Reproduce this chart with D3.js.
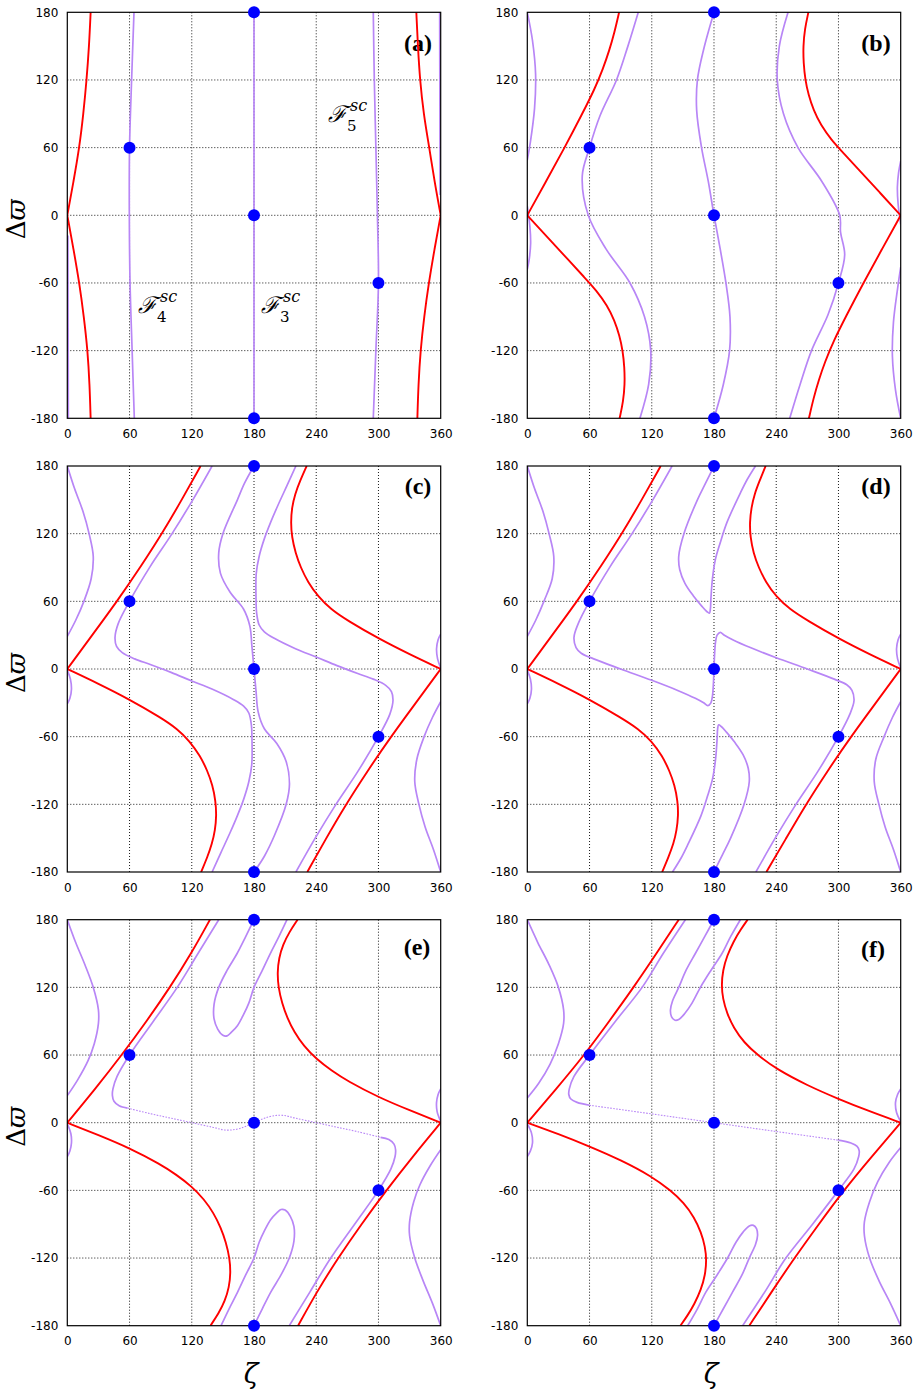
<!DOCTYPE html>
<html><head><meta charset="utf-8">
<script src="https://cdn.jsdelivr.net/npm/d3@7"></script>
<style>body{margin:0;background:#fff}svg{display:block}</style>
</head><body>
<svg id="chart" width="921" height="1394"></svg>
<script>
const xTicks=[0,60,120,180,240,300,360];
const yTicks=[-180,-120,-60,0,60,120,180];
const fixedPoints=[[60,60],[180,180],[180,0],[180,-180],[300,-60]];

// ---- panel (a)
const aRed=[
 [[0,0],[6,30],[11.6,60],[15.5,90],[18.6,120],[21,150],[22.5,180]],
 [[0,0],[6,-30],[11.6,-60],[16,-90],[19.6,-120],[21.5,-150],[22.5,-180]],
 [[360,0],[354,30],[349,60],[343.5,90],[340,120],[338,150],[336.5,180]],
 [[360,0],[354,-30],[348.5,-60],[344,-90],[340.5,-120],[338.5,-150],[337.5,-180]]
];
const aPurple=[
 [[64.3,180],[62,120],[60,60],[59.8,0],[60.5,-60],[62.5,-120],[64.6,-180]],
 [[180,180],[180,0],[180,-180]],
 [[295,180],[296,120],[297.5,60],[299,0],[300,-60],[297.5,-120],[295,-180]],
 [[0.6,-18],[0.8,-100],[1,-180]],
 [[359.4,18],[359.2,100],[359,180]]
];
const aDotted=[];

// ---- panel (b)
const bRed=[
 [[0,0],[18,30],[36,60],[53,90],[65,112],[73,130],[79,146],[84,162],[88.5,180]],
 [[0,0],[20,-20],[40,-40],[55,-55],[67,-67],[77,-80],[84,-93],[89,-107],[92,-120],[93.7,-135],[94,-150],[92.5,-165],[89,-180]],
 [[360,0],[340,20],[320,40],[305,55],[293,67],[283,80],[276,93],[271,107],[268,120],[266.3,135],[266,150],[267.5,165],[271,180]],
 [[360,0],[342,-30],[324,-60],[307,-90],[295,-112],[287,-130],[281,-146],[276,-162],[271.5,-180]]
];
const bPurple=[
 [[107,180],[97,150],[86,120],[70,88],[60,60],[53,35],[58.8,0],[76,-30],[99,-60],[113,-90],[119,-120],[117,-150],[108.6,-180]],
 [[180,180],[170,147],[164,120],[163.3,93],[168,60],[174.5,30],[180,0],[186,-30],[191.5,-60],[195.4,-90],[195,-120],[189,-150],[180,-180]],
 [[253,-180],[263,-150],[274,-120],[290,-88],[300,-60],[306,-35],[302,-15],[301.2,0],[284,30],[261,60],[247,90],[241,120],[243,150],[251.4,180]],
 [[0,180],[5,155],[8,125],[7,95],[3,65],[0,49]],
 [[360,-180],[355,-155],[352,-125],[353,-95],[357,-65],[360,-46]],
 [[0,8],[2.5,-10],[3.2,-25],[2,-38],[0,-48]],
 [[360,-8],[357.5,10],[356.8,25],[358,38],[360,48]]
];
const bDotted=[];

// ---- panel (c)
const cRed=[
 [[0,0],[24,30],[48,60],[71,91],[92,121],[111,151],[128.5,180]],
 [[0,0],[30,-13],[60,-27],[90,-43],[106,-53],[118,-64],[128,-77],[135,-90],[140,-103],[143,-117],[143.8,-130],[142.5,-143],[139.5,-155],[135,-167],[129,-180]],
 [[360,0],[330,13],[300,27],[270,43],[254,53],[242,64],[232,77],[225,90],[220,103],[216.5,117],[215.5,130],[216.5,143],[219.5,155],[224.5,167],[230.8,180]],
 [[360,0],[336,-30],[312,-60],[289,-91],[268,-121],[249,-151],[231.4,-180]]
];
const cPurple=[
 [[139.6,180],[121,150],[101,120],[80,91],[60,60],[49,40],[46,28],[47.5,20],[53,14.5],[65,9],[80,4],[100,-3],[120,-10.6],[140,-18],[160,-27],[170,-33],[175,-39],[177.5,-50],[178,-60],[177.8,-85],[175,-100],[170,-115.6],[164,-130],[157,-145],[148,-163],[139.6,-180]],
 [[220.4,-180],[239,-150],[259,-120],[280,-91],[300,-60],[311,-40],[314,-28],[312.5,-20],[307,-14.5],[295,-9],[280,-4],[260,3],[240,10.6],[220,18],[200,27],[190,33],[185,39],[182.5,50],[182,60],[182.2,85],[185,100],[190,115.6],[196,130],[203,145],[212,163],[220.4,180]],
 [[180,180],[171,165],[164,150],[150,120],[146,103],[147.6,85],[157,68],[170,53],[176,38],[178,20],[180,0],[182,-20],[184,-38],[190,-53],[202,-66],[211,-82],[214.2,-102],[211,-120],[200,-147],[190,-166],[180,-180]],
 [[0,180],[7,160],[15,140],[21,120],[25,100],[23,80],[16,60],[8,43],[0,29]],
 [[360,-180],[353,-160],[345,-140],[339,-120],[335,-100],[337,-80],[344,-60],[352,-43],[360,-29]],
 [[0,-1],[3,-9],[4,-18],[2.5,-26],[0,-31]],
 [[360,1],[357,9],[356,18],[357.5,26],[360,31]]
];
const cDotted=[];

// ---- panel (d)
const dRed=[
 [[0,0],[24,30],[48,60],[71,91],[92,121],[111,151],[128.6,180]],
 [[0,0],[30,-13],[60,-27],[90,-43],[107,-53],[120,-64],[130,-77],[137,-90],[142,-103],[145,-117],[145.6,-130],[144,-143],[141,-155],[136,-167],[130,-180]],
 [[360,0],[330,13],[300,27],[270,43],[253,53],[240,64],[230,77],[223,90],[218,103],[215,117],[214.4,130],[216,143],[219,155],[224,167],[229.8,180]],
 [[360,0],[336,-30],[312,-60],[289,-91],[268,-121],[249,-151],[230.5,-180]]
];
const dPurple=[
 [[139.6,180],[121,150],[101,120],[80,91],[60,60],[49,40],[45,28],[47,19],[52,14],[64,9],[90,0],[120,-10],[145,-19],[162,-26],[170,-30],[174,-32.5],[177,-30],[178.5,-24],[179.5,-12],[180,0],[180.5,12],[181.5,24],[183,30],[186,32.5],[190,30],[198,26],[215,19],[240,10],[270,0],[296,-9],[308,-14],[313,-19],[315,-28],[311,-40],[300,-60],[280,-91],[259,-120],[239,-150],[220.4,-180]],
 [[180,180],[172,165],[164,150],[151,120],[146,100],[147,88],[152,76],[160,65],[168,56],[173,51],[175.5,49.5],[176.5,53],[177,62],[178.5,80],[181.3,97],[186,112],[192.5,130],[205.4,156],[212,168],[220,180]],
 [[180,-180],[188,-165],[196,-150],[209,-120],[214,-100],[213,-88],[208,-76],[200,-65],[192,-56],[187,-51],[184.5,-49.5],[183.5,-53],[183,-62],[181.5,-80],[178.7,-97],[174,-112],[167.5,-130],[154.6,-156],[148,-168],[140,-180]],
 [[0,180],[7,160],[15,140],[21,120],[25.5,100],[24,80],[16,60],[8,43],[0,29]],
 [[360,-180],[353,-160],[345,-140],[339,-120],[334.5,-100],[336,-80],[344,-60],[352,-43],[360,-29]],
 [[0,-1],[3,-9],[4,-18],[2.5,-26],[0,-31]],
 [[360,1],[357,9],[356,18],[357.5,26],[360,31]]
];
const dDotted=[];

// ---- panel (e)
const eRed=[
 [[0,0],[27,30],[52.5,60],[76.5,90],[99,120],[119.5,150],[137.5,180]],
 [[0,0],[30,-11],[60,-22.5],[90,-37],[105,-46],[120,-56.5],[132,-68],[141,-80],[148,-93],[153,-106],[156.5,-120],[157.5,-133],[156,-146],[152,-158],[146,-169],[138,-180]],
 [[360,0],[330,11],[300,22.5],[270,37],[255,46],[240,56.5],[228,68],[219,80],[212,93],[207,106],[203.5,120],[202.5,133],[204,146],[208,158],[214,169],[222,180]],
 [[360,0],[333,-30],[307.5,-60],[283.5,-90],[261,-120],[240.5,-150],[222.5,-180]]
];
const ePurple=[
 [[146,180],[126,150],[106,120],[83,90],[60,60],[48,41],[44,30],[43.5,24],[45,19],[50,15],[58,13]],
 [[302,-13],[310,-15],[315,-19],[316.5,-24],[316,-30],[312,-41],[300,-60],[277,-90],[254,-120],[234,-150],[214,-180]],
 [[180,180],[172,165],[163.7,150],[154,135],[146,120],[141.5,105],[141.5,92],[145,83],[150,77.5],[154,77],[158,80],[164,86],[170,96],[175,106],[180,120],[188,135],[195.7,150],[204,165],[211.8,180]],
 [[180,-180],[188,-165],[196.3,-150],[206,-135],[214,-120],[218.5,-105],[218.5,-92],[215,-83],[210,-77.5],[206,-77],[202,-80],[196,-86],[190,-96],[185,-106],[180,-120],[172,-135],[164.3,-150],[156,-165],[148.2,-180]],
 [[0,180],[8,160],[17,140],[25,120],[30,100],[30,88],[26,70],[20,55],[10,38],[0,24]],
 [[360,-180],[352,-160],[343,-140],[335,-120],[330,-100],[330,-88],[334,-70],[340,-55],[350,-38],[360,-24]],
 [[0,-1],[3.5,-10],[4,-18],[2.5,-25],[0,-30]],
 [[360,1],[356.5,10],[356,18],[357.5,25],[360,30]]
];
const eDotted=[
 [[58,13],[80,8],[100,4],[120,0],[140,-4],[152,-6.5],[162,-6],[170,-4],[175,-2],[180,0],[185,2],[190,4],[198,6],[208,6.5],[220,4],[240,0],[260,-4],[280,-8],[302,-13]]
];

// ---- panel (f)
const fRed=[
 [[0,0],[28,30],[55,60],[79,90],[102.5,120],[124.5,150],[146,180]],
 [[0,0],[30,-10],[60,-21],[90,-33],[120,-47.6],[138,-60],[151,-71],[161,-84],[167.5,-97],[171.5,-110],[172.8,-122],[171.5,-135],[167.5,-148],[161,-161],[154.5,-171],[147.6,-180]],
 [[360,0],[330,10],[300,21],[270,33],[240,47.6],[222,60],[209,71],[199,84],[192.5,97],[188.5,110],[187.2,122],[188.5,135],[192.5,148],[199,161],[205.5,171],[212.4,180]],
 [[360,0],[332,-30],[305,-60],[281,-90],[257.5,-120],[235.5,-150],[214,-180]]
];
const fPurple=[
 [[152.4,180],[131,150],[110.7,120],[85,90],[60,60],[45,41],[40.5,30],[40,25],[42,21],[48,18],[60,15.5]],
 [[300,-15.5],[312,-18],[318,-21],[320,-25],[319.5,-30],[315,-41],[300,-60],[275,-90],[249.3,-120],[229,-150],[207.6,-180]],
 [[180,180],[171,165],[162,150],[153,135],[146,120],[140,108],[138,100],[139,94],[142,91],[146,91.5],[152,97],[158.8,106],[166.9,120],[177,135],[187.7,150],[196,165],[205.4,180]],
 [[180,-180],[189,-165],[198,-150],[207,-135],[214,-120],[220,-108],[222,-100],[221,-94],[218,-91],[214,-91.5],[208,-97],[201.2,-106],[193.1,-120],[183,-135],[172.3,-150],[164,-165],[154.6,-180]],
 [[0,180],[10,160],[21,140],[30,120],[35,100],[35,88],[30,70],[22,52],[11,35],[0,22]],
 [[360,-180],[350,-160],[339,-140],[330,-120],[325,-100],[325,-88],[330,-70],[338,-52],[349,-35],[360,-22]],
 [[0,-1],[4,-9],[5,-18],[3,-25],[0,-30]],
 [[360,1],[356,9],[355,18],[357,25],[360,30]]
];
const fDotted=[
 [[60,15.5],[120,7.8],[180,0],[240,-7.8],[300,-15.5]]
];

const panelLabels=['(a)','(b)','(c)','(d)','(e)','(f)'];

const panels=[
 {label:panelLabels[0],red:aRed,purple:aPurple,dotted:aDotted,left:67.3,top:12.3,lx:418,ly:51,yTitle:true,xTitle:false},
 {label:panelLabels[1],red:bRed,purple:bPurple,dotted:bDotted,left:527.3,top:12.3,lx:876,ly:51,yTitle:false,xTitle:false},
 {label:panelLabels[2],red:cRed,purple:cPurple,dotted:cDotted,left:67.3,top:466,lx:418,ly:494,yTitle:true,xTitle:false},
 {label:panelLabels[3],red:dRed,purple:dPurple,dotted:dDotted,left:527.3,top:466,lx:876,ly:494,yTitle:false,xTitle:false},
 {label:panelLabels[4],red:eRed,purple:ePurple,dotted:eDotted,left:67.3,top:919.7,lx:417,ly:955,yTitle:true,xTitle:true},
 {label:panelLabels[5],red:fRed,purple:fPurple,dotted:fDotted,left:527.3,top:919.7,lx:873,ly:957,yTitle:false,xTitle:true}
];

const W=373.4,H=406;
const RED='#ff0000',PURPLE='#b886f6',BLUE='#0000ff';
const svg=d3.select('#chart');
const x=d3.scaleLinear().domain([0,360]).range([0,W]);
const y=d3.scaleLinear().domain([-180,180]).range([H,0]);
const line=d3.line().x(d=>x(d[0])).y(d=>y(d[1])).curve(d3.curveCatmullRom.alpha(0.5));
const smoothLine=d3.line().x(d=>x(d[0])).y(d=>y(d[1])).curve(d3.curveBasis);

panels.forEach((p,i)=>{
  const g=svg.append('g').attr('transform',`translate(${p.left},${p.top})`);
  const cid='clip'+i;
  g.append('clipPath').attr('id',cid).append('rect').attr('x',0).attr('y',0).attr('width',W).attr('height',H);

  // grid
  const grid=g.append('g').attr('stroke','#000').attr('stroke-width',0.9).attr('stroke-dasharray','1,2');
  grid.selectAll('line.vx').data(xTicks.slice(1,-1)).join('line')
    .attr('x1',d=>x(d)).attr('x2',d=>x(d)).attr('y1',0).attr('y2',H);
  grid.selectAll('line.hy').data(yTicks.slice(1,-1)).join('line')
    .attr('y1',d=>y(d)).attr('y2',d=>y(d)).attr('x1',0).attr('x2',W);

  // axes labels
  const ax=g.append('g').attr('transform',`translate(0,${H})`)
    .call(d3.axisBottom(x).tickValues(xTicks).tickSize(0).tickPadding(11).tickFormat(d=>String(d)));
  const ay=g.append('g').call(d3.axisLeft(y).tickValues(yTicks).tickSize(0).tickPadding(9).tickFormat(d=>String(d)));
  [ax,ay].forEach(a=>{a.select('.domain').remove();
    a.selectAll('text').attr('font-family','DejaVu Sans, Verdana, sans-serif').attr('font-size',12).attr('fill','#000');});

  // panel label
  g.append('text').attr('x',p.lx-p.left).attr('y',p.ly-p.top).attr('text-anchor','middle')
    .attr('font-family','Liberation Serif, Times New Roman, serif').attr('font-weight','bold')
    .attr('font-size',24).text(p.label);

  const cg=g.append('g').attr('clip-path',`url(#${cid})`).attr('fill','none');
  cg.selectAll('path.pu').data(p.purple).join('path').attr('class','pu')
    .attr('d',line).attr('stroke',PURPLE).attr('stroke-width',1.7);
  cg.selectAll('path.dt').data(p.dotted).join('path').attr('class','dt')
    .attr('d',line).attr('stroke',PURPLE).attr('stroke-width',1.1).attr('stroke-dasharray','1.6,1.4');
  cg.selectAll('path.rd').data(p.red).join('path').attr('class','rd')
    .attr('d',smoothLine).attr('stroke',RED).attr('stroke-width',1.9);

  // frame
  g.append('rect').attr('x',0).attr('y',0).attr('width',W).attr('height',H)
    .attr('fill','none').attr('stroke','#000').attr('stroke-width',1.2);

  // fixed points
  g.selectAll('circle').data(fixedPoints).join('circle')
    .attr('cx',d=>x(d[0])).attr('cy',d=>y(d[1])).attr('r',6).attr('fill',BLUE);

  if(p.yTitle){
    const t=svg.append('text').attr('transform',`translate(${p.left-42},${p.top+H/2+4}) rotate(-90)`)
      .attr('text-anchor','middle').attr('font-family','DejaVu Serif, serif').attr('font-size',26);
    t.append('tspan').text('Δ');
    t.append('tspan').attr('font-style','italic').text('ϖ');
  }
  if(p.xTitle){
    svg.append('text').attr('x',p.left+W/2-3).attr('y',p.top+H+57)
      .attr('text-anchor','middle').attr('font-family','DejaVu Serif, serif').attr('font-style','italic')
      .attr('font-size',27).text('ζ');
  }
});

// F^sc labels in panel (a)
const fLabels=[{sub:'4',x:138,y:313},{sub:'3',x:261,y:313},{sub:'5',x:328,y:122}];
fLabels.forEach(f=>{
  const g=svg.append('g').attr('transform',`translate(${f.x},${f.y})`);
  g.append('text').attr('font-family','DejaVu Serif, serif').attr('font-style','italic').attr('font-size',23).text('ℱ');
  g.append('text').attr('x',22).attr('y',-11).attr('font-family','DejaVu Serif, serif').attr('font-style','italic').attr('font-size',16).text('sc');
  g.append('text').attr('x',19).attr('y',9).attr('font-family','DejaVu Serif, serif').attr('font-size',15).text(f.sub);
});
</script>
</body></html>
